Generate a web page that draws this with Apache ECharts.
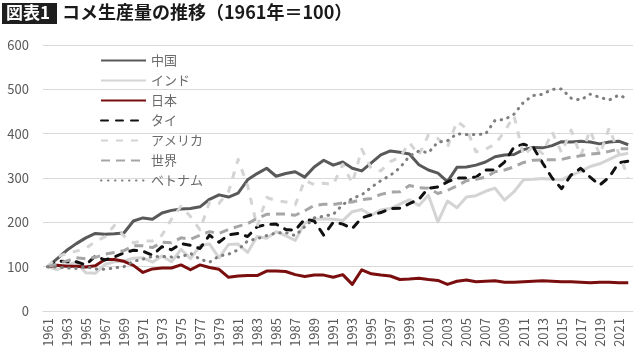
<!DOCTYPE html>
<html>
<head>
<meta charset="utf-8">
<script src="https://cdn.jsdelivr.net/npm/echarts@6/dist/echarts.min.js"></script>
<style>
html,body{margin:0;padding:0;background:#fff;}
#chart{width:640px;height:357px;}
</style>
</head>
<body>
<div id="chart"></div>
<script>
var years = ['1961','1962','1963','1964','1965','1966','1967','1968','1969','1970',
'1971','1972','1973','1974','1975','1976','1977','1978','1979','1980',
'1981','1982','1983','1984','1985','1986','1987','1988','1989','1990',
'1991','1992','1993','1994','1995','1996','1997','1998','1999','2000',
'2001','2002','2003','2004','2005','2006','2007','2008','2009','2010',
'2011','2012','2013','2014','2015','2016','2017','2018','2019','2020',
'2021','2022'];

var china = [100,118,137,152,165,175,173,174,176,203,
210,207,221,227,230,231,235,252,262,257,
266,296,310,322,304,310,314,302,325,340,
329,336,322,316,334,352,361,358,354,330,
318,311,292,324,325,329,336,348,352,353,
364,369,368,373,382,381,383,381,377,381,
383,375];

var india = [100,93,104,110,86,85,105,111,113,119,
120,110,124,111,139,118,147,151,120,150,
151,132,168,164,179,170,159,198,207,208,
207,204,224,229,216,228,231,241,251,238,
261,201,248,233,257,260,270,277,250,269,
296,297,299,297,296,306,315,326,332,342,
352,356];

var japan = [100,103,101,101,99,102,116,116,112,103,
87,95,97,97,104,93,104,98,94,76,
79,80,80,90,90,89,82,78,81,81,
76,82,60,93,84,81,79,71,72,74,
71,69,60,67,70,66,67,68,65,65,
66,67,68,67,66,66,65,64,65,65,
64,64];

var thai = [100,113,111,111,104,124,115,122,131,137,
135,126,145,138,152,148,141,171,155,172,
175,168,190,195,196,184,182,207,203,171,
200,196,186,210,217,222,231,232,242,252,
277,280,291,300,300,302,318,318,336,370,
376,370,334,300,276,307,322,302,284,302,
334,338];

var usa = [100,122,130,135,141,157,167,193,169,154,
158,158,171,207,236,213,183,246,243,269,
342,283,190,256,249,246,239,295,285,288,
285,331,288,365,321,316,337,347,380,352,
397,389,369,428,412,359,365,376,405,440,
350,372,355,404,357,408,350,408,352,413,
356,300];

var world = [100,106,113,120,118,121,128,132,136,147,
147,143,155,154,165,162,171,179,175,184,
191,197,209,218,219,219,216,226,238,241,
240,244,246,251,254,263,268,269,283,278,
277,265,272,282,294,297,302,314,318,325,
335,340,341,341,342,347,350,354,356,360,
366,366];

var vietnam = [100,99,97,96,100,95,94,97,100,112,
117,123,123,122,122,130,117,110,124,128,
138,158,163,170,176,177,170,190,210,214,
218,240,254,262,279,294,306,323,349,361,
357,381,384,400,398,398,399,430,432,444,
471,486,489,500,501,480,476,489,482,476,
487,478];

var yTicks = [0,100,200,300,400,500,600];

var FONT = '"Noto Sans CJK JP","Noto Sans",sans-serif';
var chart = echarts.init(document.getElementById('chart'), null, {renderer:'canvas'});

function mk(name, data, color, type, cap, z) {
  return {
    name: name, type: 'line', data: data, symbol: 'none', z: z,
    lineStyle: {color: color, width: 3, type: type, cap: cap || 'butt', join: 'round'},
    itemStyle: {color: color},
    emphasis: {disabled: true}, animation: false
  };
}

chart.setOption({
  animation: false,
  textStyle: {fontFamily: FONT},
  graphic: [
    {type:'rect', shape:{x:2,y:3,width:55,height:21}, style:{fill:'#1e1e1e'}},
    {type:'text', left:6, top:4, style:{text:'図表1', fill:'#fff', font:'bold 17px ' + FONT}},
    {type:'text', left:62, top:3, style:{text:'コメ生産量の推移（1961年＝100）', fill:'#1a1a1a', font:'bold 18px ' + FONT}}
  ],
  legend: {
    orient: 'vertical', left: 95, top: 49,
    itemWidth: 45, itemHeight: 14, itemGap: 7,
    itemStyle: {opacity: 0},
    textStyle: {color:'#6b6b6b', fontSize: 13, fontFamily: FONT},
    data: ['中国','インド','日本','タイ','アメリカ','世界','ベトナム']
  },
  grid: {left: 43, right: 7, top: 45, bottom: 46},
  xAxis: {
    type: 'category', data: years, boundaryGap: true,
    axisLine: {show: true, lineStyle: {color:'#d9d9d9', width: 1}},
    axisTick: {show: false},
    axisLabel: {rotate: 90, interval: 1, color:'#595959', fontSize: 13, margin: 7, fontFamily: FONT}
  },
  yAxis: {
    type: 'value', min: yTicks[0], max: yTicks[yTicks.length-1], interval: 100,
    axisLine: {show: false}, axisTick: {show: false},
    splitLine: {lineStyle: {color:'#d9d9d9', width: 1}},
    axisLabel: {color:'#595959', fontSize: 13, margin: 14, fontFamily: FONT}
  },
  series: [
    mk('中国', china, '#595959', 'solid', 'butt', 2),
    mk('インド', india, '#d4d4d4', 'solid', 'butt', 2),
    mk('日本', japan, '#7a0d0d', 'solid', 'butt', 2),
    mk('タイ', thai, '#111111', [7,8], 'round', 2),
    mk('アメリカ', usa, '#d4d4d4', [7,8], 'butt', 2),
    mk('世界', world, '#a6a6a6', [9,6], 'butt', 2),
    mk('ベトナム', vietnam, '#7f7f7f', [0.5,6.5], 'round', 2)
  ]
});
</script>
</body>
</html>
